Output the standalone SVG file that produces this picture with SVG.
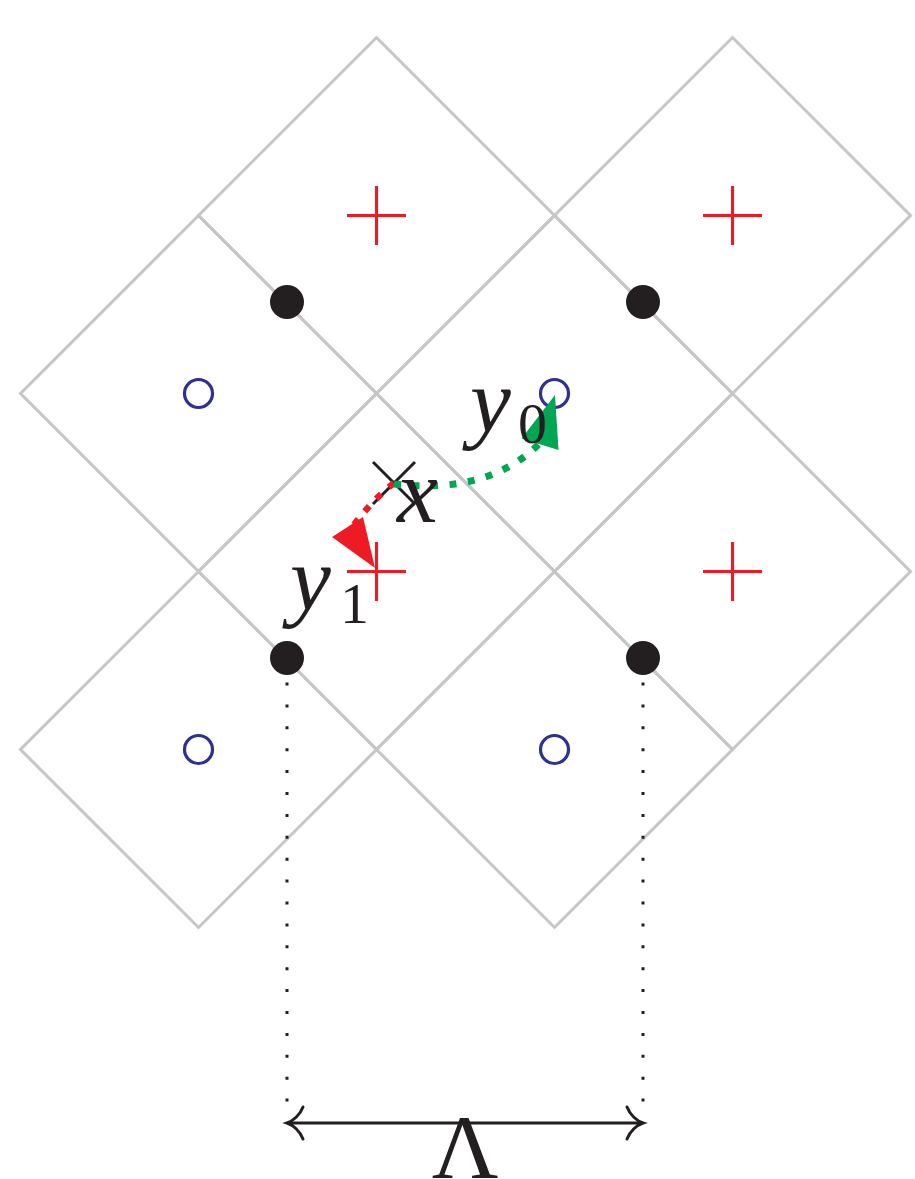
<svg xmlns="http://www.w3.org/2000/svg" width="915" height="1179" viewBox="0 0 915 1179">
<defs>
<style>
.cell{fill:none;stroke:#c6c6c6;stroke-width:3;stroke-linejoin:miter}
.plus{stroke:#ed1c24;stroke-width:3.2;fill:none}
.ring{fill:none;stroke:#2e3192;stroke-width:3.2}
.site{fill:#231f20}
.math{font-family:"Liberation Serif","DejaVu Serif",serif;font-style:italic;fill:#231f20}
.num{font-family:"Liberation Serif","DejaVu Serif",serif;fill:#231f20}
.guide{stroke:#231f20;stroke-width:3;fill:none;stroke-dasharray:3 18.9}
</style>
<polygon id="dia" points="0,-178 178,0 0,178 -178,0"/>
<path id="pl" d="M-29.5,0H29.5M0,-29.5V29.5"/>
</defs>
<rect width="915" height="1179" fill="#fff"/>
<g id="cell-1"><use href="#dia" class="cell" x="376.5" y="215.5"/></g>
<g id="cell-2"><use href="#dia" class="cell" x="732.5" y="215.5"/></g>
<g id="cell-3"><use href="#dia" class="cell" x="198.5" y="393.5"/></g>
<g id="cell-4"><use href="#dia" class="cell" x="554.5" y="393.5"/></g>
<g id="cell-5"><use href="#dia" class="cell" x="376.5" y="571.5"/></g>
<g id="cell-6"><use href="#dia" class="cell" x="732.5" y="571.5"/></g>
<g id="cell-7"><use href="#dia" class="cell" x="198.5" y="749.5"/></g>
<g id="cell-8"><use href="#dia" class="cell" x="554.5" y="749.5"/></g>
<g id="plus-1"><use href="#pl" class="plus" x="376.5" y="215.5"/></g>
<g id="plus-2"><use href="#pl" class="plus" x="732.5" y="215.5"/></g>
<g id="plus-3"><use href="#pl" class="plus" x="376.5" y="571.5"/></g>
<g id="plus-4"><use href="#pl" class="plus" x="732.5" y="571.5"/></g>
<g id="ring-1"><circle class="ring" cx="198.5" cy="393.5" r="14"/></g>
<g id="ring-2"><circle class="ring" cx="554.5" cy="393.5" r="14"/></g>
<g id="ring-3"><circle class="ring" cx="198.5" cy="749.5" r="14"/></g>
<g id="ring-4"><circle class="ring" cx="554.5" cy="749.5" r="14"/></g>
<g id="site-1"><circle class="site" cx="287" cy="302" r="17"/></g>
<g id="site-2"><circle class="site" cx="643" cy="302" r="17"/></g>
<g id="site-3"><circle class="site" cx="287" cy="658" r="17"/></g>
<g id="site-4"><circle class="site" cx="643" cy="658" r="17"/></g>
<g id="point-x">
<path d="M373,462L415,504M415,462L373,504" stroke="#231f20" stroke-width="3" fill="none"/>
</g>
<g id="connectors">
<path d="M287,682.5V1102" class="guide"/>
<path d="M643,682.5V1102" class="guide"/>
<path d="M394,483Q372,500 350,530" fill="none" stroke="#ed1c24" stroke-width="6.5" stroke-dasharray="7 10"/>
<polygon points="375,568 332,537 363,517" fill="#ed1c24"/>
<path d="M394,484Q490,495 541,442" fill="none" stroke="#00a651" stroke-width="7" stroke-dasharray="7 11.5"/>
<polygon points="555,395 521.5,438.5 558.5,450" fill="#00a651"/>
<path d="M287,1123H643" stroke="#231f20" stroke-width="3" fill="none"/>
<path d="M303,1107C300,1115 293,1121 287,1123C293,1125 300,1131 303,1139" stroke="#231f20" stroke-width="3" fill="none" stroke-linecap="round"/>
<path d="M627,1107C630,1115 637,1121 643,1123C637,1125 630,1131 627,1139" stroke="#231f20" stroke-width="3" fill="none" stroke-linecap="round"/>
</g>
<g id="labels">
<text class="math" x="397" y="522" font-size="92">x</text>
<text class="math" x="470" y="432" font-size="92">y</text>
<text class="num" x="518" y="443" font-size="58">0</text>
<text class="math" x="290" y="610" font-size="92">y</text>
<text class="num" x="340" y="623" font-size="58">1</text>
<text class="num" x="465" y="1178" font-size="92" text-anchor="middle">Λ</text>
</g>
</svg>
